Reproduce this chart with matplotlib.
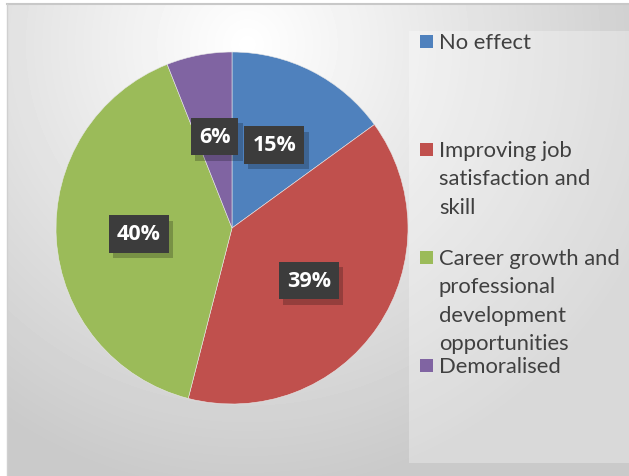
import numpy as np
import matplotlib
matplotlib.use("Agg")
import matplotlib.pyplot as plt
import matplotlib.patheffects as pe
from matplotlib.patches import Rectangle

categories = ["No effect", "Improving job satisfaction and skill",
              "Career growth and professional development opportunities", "Demoralised"]
legend_labels = ["No effect", "Improving job\nsatisfaction and\nskill",
                 "Career growth and\nprofessional\ndevelopment\nopportunities", "Demoralised"]
shares = [15, 39, 40, 6]
colors = ["#4f81bd", "#c0504d", "#9bbb59", "#8064a2"]

W, H = 629, 477
fig = plt.figure(figsize=(W / 100, H / 100), dpi=100)
fig.patch.set_facecolor("white")


def px(x, y, w, h):
    # pixel box (top-left origin) -> figure fraction
    return [x / W, 1 - (y + h) / H, w / W, h / H]


# background radial gradient
bg = fig.add_axes(px(7, 5, W - 7, H - 5))
yy, xx = np.mgrid[0:H - 5, 0:W - 7]
d = np.sqrt(((xx - 240) / 420.0) ** 2 + ((yy - 40) / 430.0) ** 2)
shade = np.clip(1.0 - 0.2 * d, 0.79, 1.0)
bg.imshow(shade, cmap="gray", vmin=0, vmax=1, aspect="auto", interpolation="bilinear")
bg.add_patch(Rectangle((401, 26), 230, 432, facecolor="white", alpha=0.3, edgecolor="none"))
bg.set_axis_off()
fig.add_artist(plt.Line2D([7 / W, 1], [1 - 5 / H, 1 - 5 / H], color="#c8c8c8", lw=1.5))
fig.add_artist(plt.Line2D([7 / W, 7 / W], [0, 1 - 5 / H], color="#d0d0d0", lw=1.0))

# pie
r = 176
ax = fig.add_axes(px(232 - r, 229 - r, 2 * r, 2 * r))
wedges, _ = ax.pie(shares, colors=colors, startangle=90, counterclock=False,
                   radius=1.0, wedgeprops=dict(edgecolor="#e8e8e8", linewidth=0.4))
ax.set_xlim(-1, 1)
ax.set_ylim(-1, 1)
ax.set_aspect("equal")

start = 90.0
for w, v in zip(wedges, shares):
    mid = np.deg2rad(start - v * 3.6 / 2)
    start -= v * 3.6
    x, y = 0.53 * np.cos(mid), 0.53 * np.sin(mid)
    t = ax.text(x, y, f"{v}%", ha="center", va="center", fontsize=15.5, fontweight="bold",
                family="Open Sans", color="white",
                bbox=dict(boxstyle="square,pad=0.38", facecolor="#3c3c3c", edgecolor="none"))
    t.get_bbox_patch().set_path_effects(
        [pe.SimplePatchShadow(offset=(3, -4), shadow_rgbFace="black", alpha=0.22), pe.Normal()])

# legend, one 108 px slot per entry
for i, (lab, c) in enumerate(zip(legend_labels, colors)):
    ytop = 42 + i * 108
    fig.add_artist(Rectangle((420 / W, 1 - (ytop + 7) / H), 13 / W, 13 / H,
                             facecolor=c, edgecolor="none", transform=fig.transFigure))
    fig.text(439 / W, 1 - (ytop - 9) / H, lab, ha="left", va="top", fontsize=15.8,
             family="Lato", color="#404040", linespacing=1.52)

fig.savefig("out.png", dpi=100)
